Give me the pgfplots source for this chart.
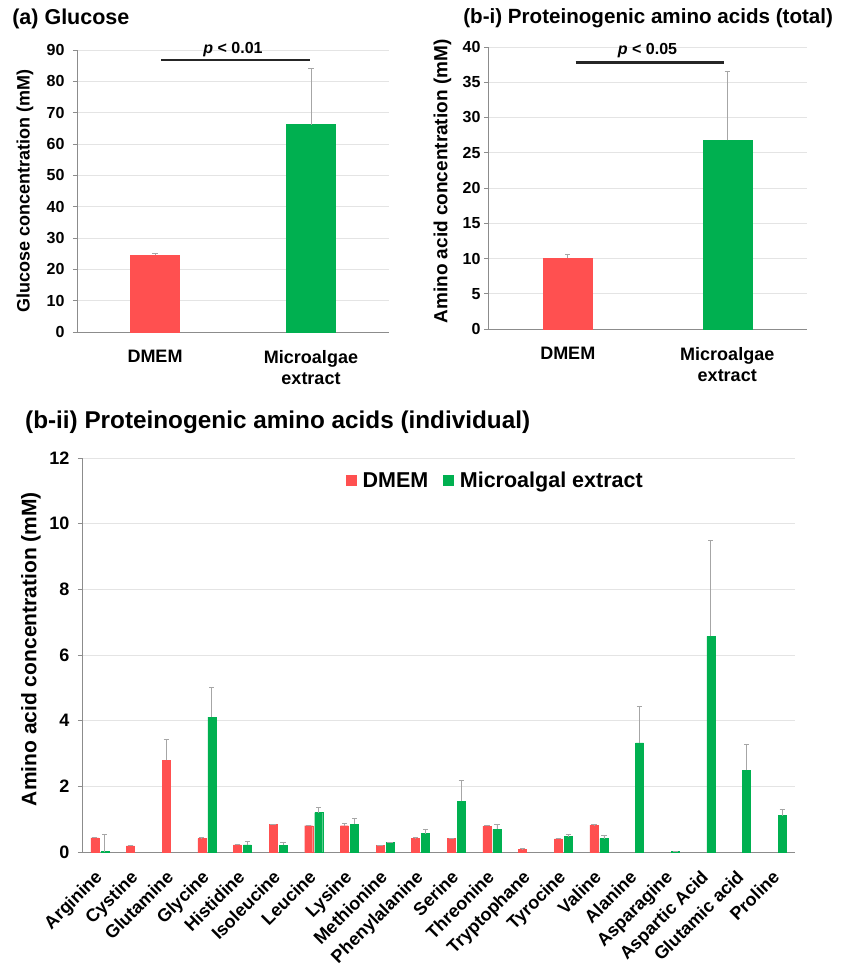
\documentclass[border=0pt]{standalone}
\usepackage{pgfplots}
\pgfplotsset{compat=1.18}
\usepackage{pgfplotstable}
\usepackage{fontspec}
\setmainfont{Liberation Sans}
\definecolor{barred}{HTML}{FF5050}
\definecolor{bargreen}{HTML}{00B050}
\definecolor{axisgray}{HTML}{8C8C8C}
\definecolor{gridgray}{HTML}{E4E4E4}
\definecolor{errgray}{HTML}{A6A6A6}

\pgfplotstableread{
idx dm dme mc mce
0 0.43 0.02 0.01 0.52
1 0.19 0.01 nan nan
2 2.80 0.62 nan nan
3 0.41 0.02 4.11 0.89
4 0.22 0.01 0.22 0.09
5 0.84 0.01 0.20 0.09
6 0.80 0.02 1.20 0.16
7 0.80 0.06 0.84 0.17
8 0.20 0.01 0.29 0.01
9 0.41 0.02 0.56 0.12
10 0.41 0.01 1.54 0.65
11 0.79 0.02 0.70 0.14
12 0.09 0.01 nan nan
13 0.40 0.02 0.47 0.06
14 0.82 0.01 0.41 0.10
15 nan nan 3.32 1.12
16 nan nan 0.01 0.01
17 nan nan 6.57 2.91
18 nan nan 2.49 0.80
19 nan nan 1.11 0.19
}\aminodata

\pgfplotsset{
  common/.style={
    scale only axis,
    axis x line*=bottom, axis y line*=left,
    axis line style={axisgray, line width=0.9pt},
    ymajorgrids, grid style={gridgray, line width=0.8pt},
    tick align=outside, major tick length=4pt,
    ytick style={axisgray, line width=0.8pt},
    xtick style={draw=none},
    /pgf/number format/assume math mode=true,
    clip=false,
  },
  errs/.style={/pgfplots/error bars/y dir=plus, /pgfplots/error bars/y explicit,
    /pgfplots/error bars/error bar style={errgray, line width=0.8pt},
    /pgfplots/error bars/error mark options={rotate=90, mark size=2.6pt, errgray, line width=0.8pt}},
  sqlegend/.style={/pgfplots/legend image code/.code={\fill[##1, draw=none] (0pt,-5.5pt) rectangle (11pt,5.5pt);}},
}

\begin{document}
\begin{tikzpicture}
\useasboundingbox (0pt,0pt) rectangle (848pt,969pt);

% (a) Glucose
\begin{axis}[common, at={(77pt,637pt)}, anchor=south west, width=312pt, height=282pt,
  xmin=-0.5, xmax=1.5, ymin=0, ymax=90, ytick={0,10,...,90},
  xtick={0,1}, xticklabels={DMEM,{Microalgae\\extract}},
  xticklabel style={align=center, font=\fontsize{18}{21}\selectfont\bfseries},
  xticklabel shift=11pt,
  yticklabel style={font=\fontsize{16}{19}\selectfont\bfseries},
  yticklabel shift=5pt,
  ylabel={Glucose concentration (mM)},
  ylabel style={at={(axis description cs:-0.167,0.5)}, anchor=center, font=\fontsize{18}{21}\selectfont\bfseries},
  ybar, bar width=49pt]
\addplot[fill=barred, draw=barred, bar shift=0pt, errs] coordinates {(0,24.5) +- (0,0.5)};
\addplot[fill=bargreen, draw=bargreen, bar shift=0pt, errs] coordinates {(1,66.2) +- (0,17.9)};
\draw[line width=2.4pt, black!85] (axis cs:0.04,86.8) -- (axis cs:0.995,86.8);
\node[anchor=base, inner sep=0pt, font=\fontsize{16}{19}\selectfont\bfseries] at (axis cs:0.5,89) {\textit{p} < 0.01};
\node[anchor=base west, inner sep=0pt, font=\fontsize{21.5}{25}\selectfont\bfseries] at (rel axis cs:-0.208,1.092) {(a) Glucose};
\end{axis}

% (b-i) total amino acids
\begin{axis}[common, at={(488pt,640pt)}, anchor=south west, width=319pt, height=282pt,
  xmin=-0.5, xmax=1.5, ymin=0, ymax=40, ytick={0,5,...,40},
  xtick={0,1}, xticklabels={DMEM,{Microalgae\\extract}},
  xticklabel style={align=center, font=\fontsize{18}{21}\selectfont\bfseries},
  xticklabel shift=11pt,
  yticklabel style={font=\fontsize{16}{19}\selectfont\bfseries},
  ylabel={Amino acid concentration (mM)},
  ylabel style={at={(axis description cs:-0.143,0.523)}, anchor=center, font=\fontsize{19}{22}\selectfont\bfseries},
  ybar, bar width=49pt]
\addplot[fill=barred, draw=barred, bar shift=0pt, errs] coordinates {(0,10.07) +- (0,0.57)};
\addplot[fill=bargreen, draw=bargreen, bar shift=0pt, errs] coordinates {(1,26.76) +- (0,9.79)};
\draw[line width=2.4pt, black!85] (axis cs:0.05,37.8) -- (axis cs:0.98,37.8);
\node[anchor=base, inner sep=0pt, font=\fontsize{16}{19}\selectfont\bfseries] at (axis cs:0.5,38.9) {\textit{p} < 0.05};
\node[anchor=base west, inner sep=0pt, font=\fontsize{20.6}{25}\selectfont\bfseries] at (rel axis cs:-0.078,1.085) {(b-i) Proteinogenic amino acids (total)};
\end{axis}

% (b-ii) individual amino acids
\begin{axis}[common, at={(82pt,117pt)}, anchor=south west, width=713pt, height=394pt,
  xmin=-0.5, xmax=19.5, ymin=0, ymax=12, ytick={0,2,...,12},
  xtick={0,...,19},
  xticklabels={Arginine,Cystine,Glutamine,Glycine,Histidine,Isoleucine,Leucine,Lysine,Methionine,Phenylalanine,Serine,Threonine,Tryptophane,Tyrocine,Valine,Alanine,Asparagine,{Aspartic Acid},{Glutamic acid},Proline},
  xticklabel style={xshift=-6pt, yshift=4pt, rotate=45, anchor=north east, inner sep=0pt, font=\fontsize{18}{21}\selectfont\bfseries},
  xticklabel shift=17pt,
  yticklabel style={font=\fontsize{18}{21}\selectfont\bfseries},
  yticklabel shift=5pt,
  ylabel={Amino acid concentration (mM)},
  ylabel style={at={(axis description cs:-0.0715,0.515)}, anchor=center, font=\fontsize{21}{25}\selectfont\bfseries},
  ybar=2pt, bar width=8pt,
  legend columns=2,
  legend style={at={(0.5785,0.943)}, anchor=center, draw=none, fill=none,
    font=\fontsize{21.5}{25}\selectfont\bfseries,
    nodes={inner sep=0pt},
    /tikz/every odd column/.append style={column sep=5.5pt},
    /tikz/every even column/.append style={column sep=15pt}}]
\addplot[fill=barred, draw=barred, sqlegend, errs] table[x=idx, y=dm, y error=dme] {\aminodata};
\addplot[fill=bargreen, draw=bargreen, sqlegend, errs] table[x=idx, y=mc, y error=mce] {\aminodata};
\legend{DMEM, Microalgal extract}
\node[anchor=base west, inner sep=0pt, font=\fontsize{24.3}{28}\selectfont\bfseries] at (rel axis cs:-0.08,1.0736) {(b-ii) Proteinogenic amino acids (individual)};
\end{axis}
\end{tikzpicture}
\end{document}
